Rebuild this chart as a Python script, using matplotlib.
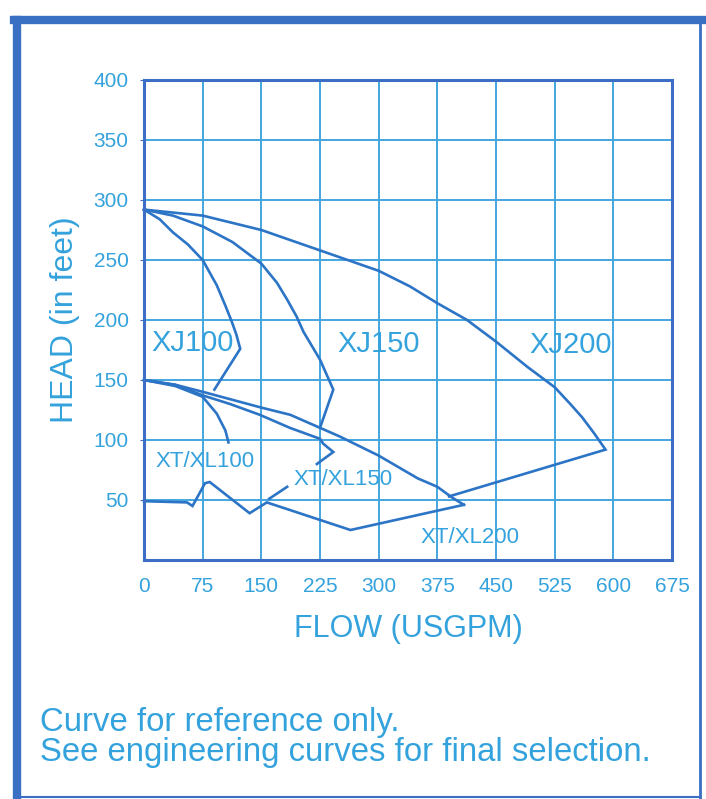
import matplotlib
matplotlib.use("Agg")
import matplotlib.pyplot as plt
from matplotlib.lines import Line2D

plt.rcParams['font.family'] = ['Liberation Sans', 'DejaVu Sans']

# ---- data (flow USGPM, head ft) ----
xj100_flow = [0, 20, 37, 56, 75, 93, 104, 112, 118, 123, 90]
xj100_head = [292, 284, 273, 263, 250, 229, 212, 199, 188, 176, 142]

xj150_flow = [0, 37, 75, 113, 150, 170, 183, 195, 204, 215, 225, 242, 226]
xj150_head = [292, 287, 278, 265, 247, 231, 217, 203, 190, 178, 167, 142, 112]

xj200_flow = [0, 75, 150, 225, 300, 340, 375, 413, 450, 490, 525, 545, 560, 575, 590, 390]
xj200_head = [292, 287, 275, 258, 241, 228, 214, 200, 182, 161, 144, 130, 119, 106, 92, 53]

xt100_flow = [0, 40, 75, 93, 104, 108]
xt100_head = [150, 145, 136, 122, 108, 98]

xt150_flow = [0, 40, 76, 110, 148, 187, 225, 229, 242, 221]
xt150_head = [150, 146, 137, 130, 121, 110, 101, 97, 90, 80]

xt200_flow = [0, 40, 76, 150, 187, 250, 300, 350, 375, 394, 409]
xt200_head = [150, 146, 140, 127, 121, 103, 87, 68, 61, 52, 46]

bottom_flow = [0, 55, 62, 78, 84, 135, 157, 264, 409]
bottom_head = [49, 48, 45, 64, 65, 39, 48, 25, 46]

x_ticks = [0, 75, 150, 225, 300, 375, 450, 525, 600, 675]
y_ticks = [50, 100, 150, 200, 250, 300, 350, 400]

labels = ["XJ100", "XJ150", "XJ200", "XT/XL100", "XT/XL150", "XT/XL200"]
label_flow = [62, 300, 545, 78, 255, 417]
label_head = [181, 180, 179, 82, 67, 19]
label_size = [21, 21, 21, 16, 16, 16]

leader150_flow = [160, 183]
leader150_head = [51, 61]

# ---- style ----
LINE = '#2c74c6'
GRID = '#45a6e0'
TEXT = '#34a2dc'
SPINE = '#3b6ec4'
FRAME = '#3a70c4'

fig = plt.figure(figsize=(7.06, 7.99), dpi=100)
ax = fig.add_axes([144/706, 1-560/799, (672-144)/706, (560-80)/799])

ax.set_xlim(0, 675)
ax.set_ylim(0, 400)
ax.set_xticks(x_ticks)
ax.set_yticks(y_ticks)
ax.set_xticklabels([str(v) for v in x_ticks])
ax.set_yticklabels([str(v) for v in y_ticks])
ax.grid(True, color=GRID, linewidth=1.4)
ax.set_axisbelow(True)
for s in ax.spines.values():
    s.set_color(SPINE)
    s.set_linewidth(2.2)
ax.tick_params(axis='x', length=0, pad=12, labelsize=15, labelcolor=TEXT)
ax.tick_params(axis='y', length=3, color=SPINE, pad=8, labelsize=15, labelcolor=TEXT)

for fx, hy in [(xj100_flow, xj100_head), (xj150_flow, xj150_head), (xj200_flow, xj200_head),
               (xt100_flow, xt100_head), (xt150_flow, xt150_head), (xt200_flow, xt200_head),
               (bottom_flow, bottom_head), (leader150_flow, leader150_head)]:
    ax.plot(fx, hy, color=LINE, linewidth=1.9, solid_joinstyle='miter', clip_on=False)

for t, fx, hy, sz in zip(labels, label_flow, label_head, label_size):
    ax.text(fx, hy, t, color=TEXT, fontsize=sz, ha='center', va='center')

ax.set_xlabel("FLOW (USGPM)", fontsize=22, color=TEXT, labelpad=13)
ax.set_ylabel("HEAD (in feet)", fontsize=23, color=TEXT, labelpad=10)

fig.text(40/706, 1-722/799, "Curve for reference only.", fontsize=23.7, color=TEXT,
         ha='left', va='center')
fig.text(40/706, 1-752/799, "See engineering curves for final selection.", fontsize=23.7,
         color=TEXT, ha='left', va='center')

# outer frame
fig.add_artist(Line2D([17/706, 17/706], [0, 1-20/799], transform=fig.transFigure,
                      color=FRAME, linewidth=6))
fig.add_artist(Line2D([14/706, 1], [1-20/799, 1-20/799], transform=fig.transFigure,
                      color=FRAME, linewidth=6))
fig.add_artist(Line2D([700/706, 700/706], [0, 1-20/799], transform=fig.transFigure,
                      color=FRAME, linewidth=2))
fig.add_artist(Line2D([14/706, 700/706], [2/799, 2/799], transform=fig.transFigure,
                      color=FRAME, linewidth=1.5))

fig.savefig("out.png", dpi=100)
